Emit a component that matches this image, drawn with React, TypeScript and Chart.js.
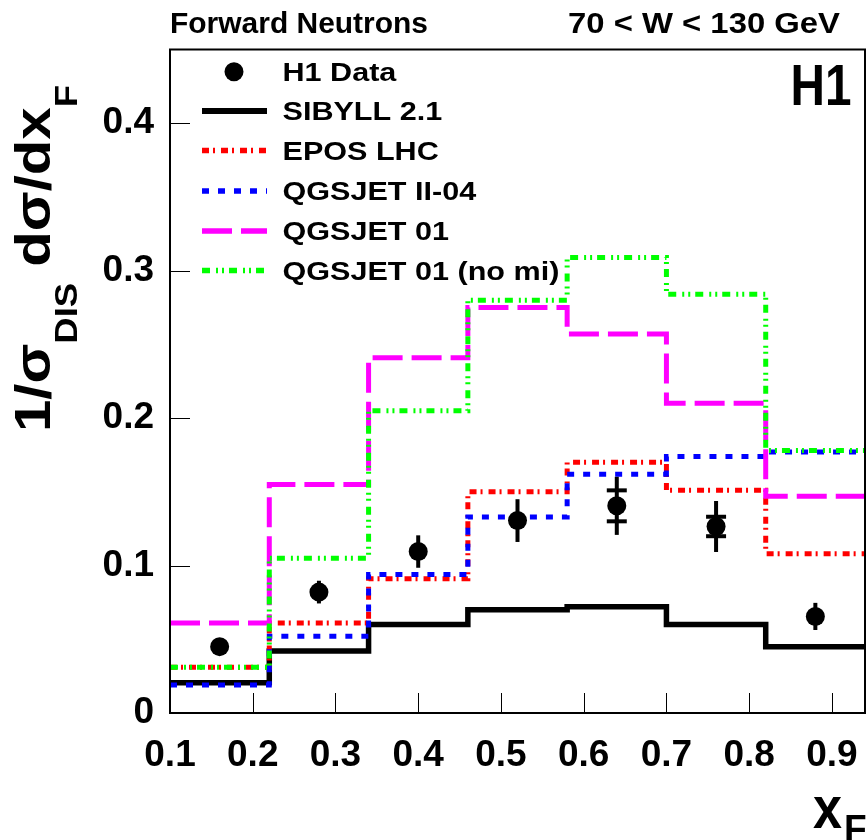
import React, { useEffect, useRef } from 'react';
import { Chart, registerables } from 'chart.js';

Chart.register(...registerables);

// ---------- data ----------
const binEdges = [0.1, 0.22, 0.34, 0.46, 0.58, 0.7, 0.82, 0.94];
const sibyll = [0.0205, 0.042, 0.06, 0.07, 0.072, 0.06, 0.045];
const eposLhc = [0.031, 0.061, 0.091, 0.15, 0.17, 0.151, 0.108];
const qgsjetII04 = [0.019, 0.052, 0.094, 0.133, 0.162, 0.174, 0.177];
const qgsjet01 = [0.061, 0.155, 0.241, 0.275, 0.257, 0.21, 0.147];
const qgsjet01NoMi = [0.031, 0.105, 0.205, 0.28, 0.309, 0.284, 0.178];

const h1X = [0.16, 0.28, 0.4, 0.52, 0.64, 0.76, 0.88];
const h1Y = [0.045, 0.082, 0.1095, 0.1305, 0.1405, 0.1265, 0.0655];
const h1Stat = [0.003, 0.004, 0.005, 0.005, 0.0105, 0.0066, 0.005];
const h1Tot = [0.005, 0.0077, 0.011, 0.0145, 0.0197, 0.0173, 0.0092];

const xTickValues = [0.1, 0.2, 0.3, 0.4, 0.5, 0.6, 0.7, 0.8, 0.9];
const yTickValues = [0, 0.1, 0.2, 0.3, 0.4];

const legendLabels = ['H1 Data', 'SIBYLL 2.1', 'EPOS LHC', 'QGSJET II-04', 'QGSJET 01', 'QGSJET 01 (no mi)'];
const headerLeft = 'Forward Neutrons';
const headerRight = '70 < W < 130 GeV';
const experimentLabel = 'H1';

// ---------- styling ----------
const FONT = '"Liberation Sans", Arial, Helvetica, sans-serif';
const CAP = 0.7;
const MARKER_R = 9.5;

function histPoints(vals: number[]) {
  return binEdges.map((x, i) => ({ x, y: vals[Math.min(i, vals.length - 1)] }));
}

function histDataset(label: string, vals: number[], color: string, dash: number[], width: number, order: number) {
  return {
    label,
    data: histPoints(vals),
    borderColor: color,
    backgroundColor: color,
    borderWidth: width,
    borderDash: dash,
    borderCapStyle: 'butt' as const,
    borderJoinStyle: 'miter' as const,
    stepped: 'before' as const,
    pointRadius: 0,
    fill: false,
    tension: 0,
    order,
  };
}

function fitText(ctx: CanvasRenderingContext2D, text: string, x: number, baseline: number, capH: number, width?: number) {
  const size = capH / CAP;
  ctx.save();
  ctx.font = `bold ${size}px ${FONT}`;
  ctx.textAlign = 'left';
  ctx.textBaseline = 'alphabetic';
  ctx.fillStyle = '#000';
  const w = ctx.measureText(text).width;
  ctx.translate(x, baseline);
  if (width) ctx.scale(width / w, 1);
  ctx.fillText(text, 0, 0);
  ctx.restore();
}

const decorPlugin = {
  id: 'h1decor',
  beforeDatasetDraw(chart: any, args: any) {
    if (args.index !== 0) return;
    const ctx: CanvasRenderingContext2D = chart.ctx;
    const xs = chart.scales.x;
    const ys = chart.scales.y;
    ctx.save();
    ctx.strokeStyle = '#000';
    ctx.lineCap = 'butt';
    h1X.forEach((xv, i) => {
      const px = xs.getPixelForValue(xv);
      const pc = ys.getPixelForValue(h1Y[i]);
      ctx.lineWidth = 4;
      ctx.beginPath();
      ctx.moveTo(px, ys.getPixelForValue(h1Y[i] - h1Tot[i]));
      ctx.lineTo(px, ys.getPixelForValue(h1Y[i] + h1Tot[i]));
      ctx.stroke();
      for (const s of [-1, 1]) {
        const py = ys.getPixelForValue(h1Y[i] + s * h1Stat[i]);
        if (Math.abs(py - pc) <= MARKER_R) continue;
        ctx.beginPath();
        ctx.moveTo(px - 10, py);
        ctx.lineTo(px + 10, py);
        ctx.stroke();
      }
    });
    ctx.restore();
  },
  afterDraw(chart: any) {
    const ctx: CanvasRenderingContext2D = chart.ctx;
    const { left, right, top, bottom } = chart.chartArea;
    const xs = chart.scales.x;
    const ys = chart.scales.y;
    ctx.save();
    // ticks (inside)
    ctx.strokeStyle = '#000';
    ctx.lineWidth = 1;
    xTickValues.forEach((v) => {
      const px = Math.round(xs.getPixelForValue(v)) + 0.5;
      ctx.beginPath();
      ctx.moveTo(px, bottom);
      ctx.lineTo(px, bottom - 20);
      ctx.stroke();
    });
    yTickValues.forEach((v) => {
      const py = Math.round(ys.getPixelForValue(v)) + 0.5;
      ctx.beginPath();
      ctx.moveTo(left, py);
      ctx.lineTo(left + 20, py);
      ctx.stroke();
    });
    // frame
    ctx.lineWidth = 2;
    ctx.strokeRect(left, top, right - left, bottom - top);

    // legend
    const rows = [71.7, 111, 150.5, 191, 231, 270.5];
    const ds = chart.data.datasets;
    rows.forEach((ry, i) => {
      if (i === 0) {
        ctx.fillStyle = '#000';
        ctx.beginPath();
        ctx.arc(234, ry, MARKER_R, 0, Math.PI * 2);
        ctx.fill();
      } else {
        const d = ds[i];
        ctx.save();
        ctx.strokeStyle = d.borderColor;
        ctx.lineWidth = d.borderWidth + 0.5;
        ctx.setLineDash(d.borderDash);
        ctx.lineCap = 'butt';
        ctx.beginPath();
        ctx.moveTo(202, ry);
        ctx.lineTo(267, ry);
        ctx.stroke();
        ctx.restore();
      }
      ctx.save();
      const size = 18.3 / CAP;
      ctx.font = `bold ${size}px ${FONT}`;
      ctx.fillStyle = '#000';
      ctx.translate(282.5, ry + 9.2);
      ctx.scale(1.17, 1);
      ctx.fillText(legendLabels[i], 0, 0);
      ctx.restore();
    });

    // header texts
    fitText(ctx, headerLeft, 170, 33, 20, 258);
    fitText(ctx, headerRight, 568, 33, 20, 272);
    // H1 label
    fitText(ctx, experimentLabel, 790.5, 105, 40, 61);

    // y-axis title
    ctx.save();
    ctx.fillStyle = '#000';
    ctx.translate(50, 432);
    ctx.rotate(-Math.PI / 2);
    const mainSize = 35 / CAP;
    const subSize = 22 / CAP;
    const parts = [
      { t: '1/σ', sub: false },
      { t: 'DIS', sub: true },
      { t: ' dσ/dx', sub: false },
      { t: 'F', sub: true },
    ];
    let total = 0;
    const widths = parts.map((p) => {
      ctx.font = `bold ${p.sub ? subSize : mainSize}px ${FONT}`;
      const w = ctx.measureText(p.t).width;
      total += w;
      return w;
    });
    ctx.scale(347 / total, 1);
    let cx = 0;
    parts.forEach((p, i) => {
      ctx.font = `bold ${p.sub ? subSize : mainSize}px ${FONT}`;
      ctx.fillText(p.t, cx, p.sub ? 27 : 0);
      cx += widths[i];
    });
    ctx.restore();

    // x-axis title
    fitText(ctx, 'x', 813, 828, 31 * 0.7 / 0.53, 29);
    fitText(ctx, 'F', 844, 841, 26);
    ctx.restore();
  },
};

export default function App() {
  const ref = useRef<HTMLCanvasElement | null>(null);
  useEffect(() => {
    if (!ref.current) return;
    const chart = new Chart(ref.current, {
      type: 'line',
      data: {
        datasets: [
          {
            label: legendLabels[0],
            data: h1X.map((x, i) => ({ x, y: h1Y[i] })),
            showLine: false,
            pointRadius: MARKER_R,
            pointBackgroundColor: '#000',
            pointBorderWidth: 0,
            borderColor: '#000',
            order: 0,
          } as any,
          histDataset(legendLabels[1], sibyll, '#000000', [], 5.5, 5),
          histDataset(legendLabels[2], eposLhc, '#ff0000', [7, 4, 2, 6], 5, 4),
          histDataset(legendLabels[3], qgsjetII04, '#0000ff', [7, 9], 5, 3),
          histDataset(legendLabels[4], qgsjet01, '#ff00ff', [30, 9], 5, 2),
          histDataset(legendLabels[5], qgsjet01NoMi, '#00ff00', [8, 6, 2, 4, 2, 5], 5, 1),
        ],
      },
      options: {
        animation: false,
        responsive: false,
        devicePixelRatio: 1,
        events: [],
        layout: { autoPadding: false, padding: { left: 0, right: 1, top: 49.5, bottom: 0 } },
        plugins: { legend: { display: false }, tooltip: { enabled: false }, title: { display: false } },
        scales: {
          x: {
            type: 'linear',
            min: 0.1,
            max: 0.94,
            grid: { display: false, drawTicks: false },
            border: { display: false },
            afterBuildTicks: (scale: any) => {
              scale.ticks = xTickValues.map((v) => ({ value: v }));
            },
            afterFit: (scale: any) => {
              scale.height = 127;
              scale.paddingLeft = 0;
              scale.paddingRight = 0;
            },
            ticks: {
              padding: 21,
              maxRotation: 0,
              autoSkip: false,
              color: '#000',
              font: { family: FONT, size: 37, weight: 'bold' },
              callback: (v: any) => Number(v).toFixed(1),
            },
          },
          y: {
            type: 'linear',
            min: 0,
            max: 0.45,
            grid: { display: false, drawTicks: false },
            border: { display: false },
            afterBuildTicks: (scale: any) => {
              scale.ticks = yTickValues.map((v) => ({ value: v }));
            },
            afterFit: (scale: any) => {
              scale.width = 170;
              scale.paddingTop = 0;
              scale.paddingBottom = 0;
            },
            ticks: {
              padding: 16,
              autoSkip: false,
              color: '#000',
              font: { family: FONT, size: 37, weight: 'bold' },
              callback: (v: any) => (Number(v) === 0 ? '0' : Number(v).toFixed(1)),
            },
          },
        },
      } as any,
      plugins: [decorPlugin as any],
    });
    return () => chart.destroy();
  }, []);
  return (
    <div style={{ position: 'absolute', left: 0, top: 0, width: 866, height: 840, background: '#fff' }}>
      <canvas ref={ref} width={866} height={840} style={{ width: 866, height: 840, display: 'block' }} />
    </div>
  );
}
